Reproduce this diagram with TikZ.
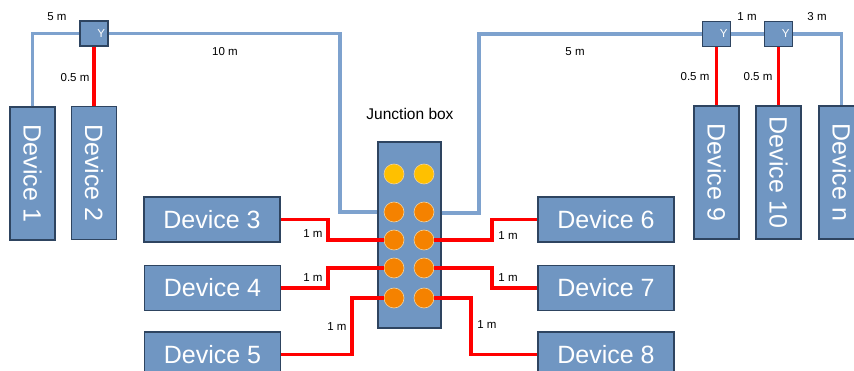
\documentclass[tikz,border=0pt]{standalone}
\usepackage{fontspec}
\usepackage{graphicx}
\setmainfont{Liberation Sans}
\definecolor{boxblue}{HTML}{7096C2}
\definecolor{boxedge}{HTML}{2E4460}
\definecolor{cableblue}{HTML}{7EA2CE}
\definecolor{portorange}{HTML}{F58200}
\definecolor{portyellow}{HTML}{FFC000}
\definecolor{portedge}{HTML}{F3D29A}
\newcommand{\devfont}{\fontsize{25}{28}\selectfont}
\newcommand{\lenfont}{\fontsize{11.5}{13}\selectfont}
\newcommand{\vtext}[1]{\rotatebox{-90}{#1}}

\begin{document}
\begin{tikzpicture}[x=1pt, y=-1pt]
        \tikzstyle{hdev} = [draw=boxedge, line width=1.2pt, fill=boxblue, rectangle, minimum width=136pt, minimum height=45pt, text=white, font=\devfont]
        \tikzstyle{vdev} = [draw=boxedge, line width=1.2pt, fill=boxblue, rectangle, minimum width=45pt, minimum height=133pt, text=white, font=\devfont]
        \tikzstyle{ybox} = [draw=boxedge, line width=1.2pt, fill=boxblue, rectangle, minimum width=28pt, minimum height=25pt, inner sep=1pt, text width=22pt, align=right, text=white, font=\lenfont]
        \tikzstyle{port} = [circle, draw=portedge, line width=0.6pt, fill=portorange, minimum size=20pt, inner sep=0pt]
        \tikzstyle{topport} = [port, fill=portyellow]
        \tikzstyle{len} = [font=\lenfont, inner sep=0pt]
        \tikzstyle{blueline} = [draw=cableblue, line width=3.5pt]
        \tikzstyle{redline} = [draw=red, line width=3.8pt]
        \useasboundingbox (0,0) rectangle (854,371);
        % devices on the long cable
        \node (dev1) [vdev] at (32.5,173.5) {\vtext{Device 1}};
        \node (dev2) [vdev] at (94,173) {\vtext{Device 2}};
        \node (dev9) [vdev] at (716.5,172.5) {\vtext{Device 9}};
        \node (dev10) [vdev] at (778.5,172.5) {\vtext{Device 10}};
        \node (devn) [vdev] at (841.5,172.5) {\vtext{Device n}};
        \node (y1) [ybox] at (94,33.5) {Y};
        \node (y9) [ybox] at (716.5,34) {Y};
        \node (y10) [ybox] at (778.5,34) {Y};
        % devices on the junction box
        \node (dev3) [hdev] at (212,219.5) {Device 3};
        \node (dev4) [hdev] at (212.5,288) {Device 4};
        \node (dev5) [hdev] at (212.5,354.5) {Device 5};
        \node (dev6) [hdev] at (606,219.5) {Device 6};
        \node (dev7) [hdev] at (606,288) {Device 7};
        \node (dev8) [hdev] at (606,354.5) {Device 8};
        \node (jbox) [draw=boxedge, line width=1.2pt, fill=boxblue, rectangle, minimum width=63pt, minimum height=186pt] at (409.5,235) {};
        \node (jlabel) [font=\fontsize{15.5}{18}\selectfont] at (410,114) {Junction box};
        \node (c1l) [topport] at (394,174) {};
        \node (c1r) [topport] at (424,174) {};
        \node (c2l) [port] at (394,212) {};
        \node (c2r) [port] at (424,212) {};
        \node (c3l) [port] at (394,240) {};
        \node (c3r) [port] at (424,240) {};
        \node (c4l) [port] at (394,268) {};
        \node (c4r) [port] at (424,268) {};
        \node (c5l) [port] at (394,298) {};
        \node (c5r) [port] at (424,298) {};
        % long cable
        \coordinate (bendl) at (340,212);
        \coordinate (bendr) at (479,213);
        \draw[blueline] (dev1.north) |- (y1.west);
        \draw[blueline] (y1.east) -| (bendl) -- (bendl -| jbox.west);
        \draw[blueline] (jbox.east |- bendr) -- (bendr) |- (y9.west);
        \draw[blueline] (y9.east) -- (y10.west);
        \draw[blueline] (y10.east) -| (devn.north);
        \draw[redline] (y1.south) -- (dev2.north);
        \draw[redline] (y9.south) -- (dev9.north);
        \draw[redline] (y10.south) -- (dev10.north);
        % short cables
        \draw[redline] (dev3.east) -- ++(47,0) |- (c3l.west);
        \draw[redline] (dev4.east) -- ++(47,0) |- (c4l.west);
        \draw[redline] (dev5.east) -- ++(71,0) |- (c5l.west);
        \draw[redline] (c3r.east) -- ++(58,0) |- (dev6.west);
        \draw[redline] (c4r.east) -- ++(58,0) |- (dev7.west);
        \draw[redline] (c5r.east) -- ++(37,0) |- (dev8.west);
        % lengths
        \node (l1) [len] at (57,17) {5 m};
        \node (l2) [len] at (75,78) {0.5 m};
        \node (l3) [len] at (225,52) {10 m};
        \node (l4) [len] at (575,52) {5 m};
        \node (l5) [len] at (747,17) {1 m};
        \node (l6) [len] at (817,17) {3 m};
        \node (l7) [len] at (695,77) {0.5 m};
        \node (l8) [len] at (758,77) {0.5 m};
        \node (l9) [len] at (313,234) {1 m};
        \node (l10) [len] at (313,278) {1 m};
        \node (l11) [len] at (337,327) {1 m};
        \node (l12) [len] at (508,236) {1 m};
        \node (l13) [len] at (508,278) {1 m};
        \node (l14) [len] at (487,325) {1 m};
\end{tikzpicture}
\end{document}
